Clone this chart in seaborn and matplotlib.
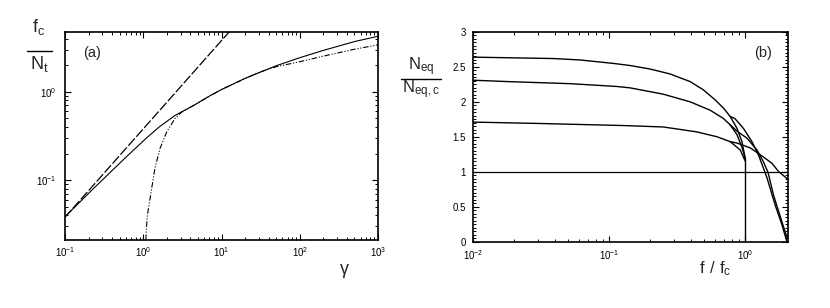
"""Two-panel figure: (a) critical force vs gamma, (b) equilibrium N vs f/f_c."""
import matplotlib
matplotlib.use("Agg")
import matplotlib.pyplot as plt
from matplotlib.lines import Line2D
from matplotlib.ticker import (FixedFormatter, FixedLocator, LogLocator,
                               MultipleLocator, NullFormatter)
import seaborn as sns

# ---- panel (a): f_c / N_t against gamma (log-log) ----
GAMMA_SOLID = [0.1, 0.23, 0.61, 1.1, 1.6, 2.55, 4.4, 7.1, 10, 20, 50, 100, 200, 500,
               1000]
FC_SOLID = [0.0385, 0.080, 0.184, 0.30, 0.40, 0.54, 0.70, 0.90, 1.06, 1.42, 1.97,
            2.43, 2.94, 3.70, 4.25]

GAMMA_DASH = [0.1, 20]
FC_DASH = [0.038, 7.6]

GAMMA_DASHDOT = [1.08, 1.1, 1.13, 1.28, 1.41, 1.64, 2.0, 2.55, 3.1, 4.4, 7.1, 10, 20,
                 30, 50, 100, 200, 500, 1000]
FC_DASHDOT = [0.021, 0.03, 0.040, 0.080, 0.137, 0.229, 0.353, 0.50, 0.59, 0.70, 0.90,
              1.06, 1.41, 1.66, 1.92, 2.19, 2.53, 3.03, 3.4]

# ---- panel (b): N_eq / N_eq,c against f / f_c ----
TOP_F = [0.01, 0.039, 0.061, 0.108, 0.143, 0.2, 0.28, 0.394, 0.494, 0.6, 0.693, 0.776]
TOP_N = [2.64, 2.62, 2.6, 2.55, 2.52, 2.47, 2.40, 2.29, 2.17, 2.03, 1.91, 1.79]
TOP_IN_F = [0.776, 0.87, 0.946, 1.0]
TOP_IN_N = [1.79, 1.62, 1.43, 1.19]
TOP_OUT_F = [0.776, 0.84, 0.97, 1.12, 1.25, 1.36, 1.44, 1.66, 1.86, 2.02]
TOP_OUT_N = [1.79, 1.76, 1.62, 1.43, 1.24, 1.05, 0.92, 0.52, 0.24, 0.0]

MID_F = [0.01, 0.018, 0.052, 0.114, 0.143, 0.25, 0.394, 0.553, 0.693, 0.776]
MID_N = [2.31, 2.29, 2.26, 2.22, 2.20, 2.11, 2.0, 1.88, 1.76, 1.67]
MID_IN_F = [0.776, 0.87, 0.946, 1.0]
MID_IN_N = [1.67, 1.53, 1.35, 1.19]
MID_OUT_F = [0.776, 0.87, 1.03, 1.22, 1.36, 1.47, 1.61, 1.86, 2.04]
MID_OUT_N = [1.67, 1.58, 1.48, 1.31, 1.14, 0.99, 0.67, 0.28, 0.04]

BOT_F = [0.01, 0.031, 0.13, 0.25, 0.44, 0.62, 0.776]
BOT_N = [1.71, 1.69, 1.66, 1.64, 1.57, 1.50, 1.43]
BOT_IN_F = [0.776, 0.92, 0.99, 1.0]
BOT_IN_N = [1.43, 1.31, 1.17, 1.15]
BOT_OUT_F = [0.776, 0.87, 1.09, 1.36, 1.57, 1.76, 2.06]
BOT_OUT_N = [1.43, 1.41, 1.34, 1.21, 1.12, 1.0, 0.89]

CUT_F = [1.0, 1.0]
CUT_N = [1.19, 0.0]
UNIT_LEVEL = 1.0

W, H = 830, 308

sns.set_style("ticks")
plt.rcParams.update({
    "font.family": ["Liberation Sans", "DejaVu Sans"],
    "mathtext.default": "regular",
    "lines.scale_dashes": False,
    "xtick.direction": "in",
    "ytick.direction": "in",
    "xtick.top": True,
    "ytick.right": True,
    "xtick.major.size": 4,
    "ytick.major.size": 4,
    "xtick.minor.size": 2,
    "ytick.minor.size": 2,
    "xtick.major.width": 0.8,
    "ytick.major.width": 0.8,
    "xtick.minor.width": 0.7,
    "ytick.minor.width": 0.7,
    "xtick.labelsize": 7,
    "ytick.labelsize": 7,
    "axes.linewidth": 1.2,
    "axes.edgecolor": "black",
    "xtick.color": "black",
    "ytick.color": "black",
})


def box(px_left, px_top, px_right, px_bottom):
    return [px_left / W, 1 - px_bottom / H, (px_right - px_left) / W,
            (px_bottom - px_top) / H]


def line(ax, x, y, **kw):
    sns.lineplot(x=x, y=y, ax=ax, color="black", sort=False, estimator=None,
                 legend=False, **kw)


def fraction(fig, cx, num, den, y_num, y_bar, y_den, half, size=12):
    fig.text(cx / W, 1 - y_num / H, num, ha="center", va="center", fontsize=size)
    fig.text(cx / W, 1 - y_den / H, den, ha="center", va="center", fontsize=size)
    fig.add_artist(Line2D([(cx - half) / W, (cx + half) / W],
                          [1 - y_bar / H, 1 - y_bar / H], color="black", lw=1.0))


fig = plt.figure(figsize=(W / 100, H / 100), dpi=100)

# panel (a)
ax1 = fig.add_axes(box(65, 32, 378, 240))
ax1.set_xscale("log")
ax1.set_yscale("log")
line(ax1, GAMMA_SOLID, FC_SOLID, lw=0.8)
line(ax1, GAMMA_DASH, FC_DASH, lw=0.9, linestyle=(0, (7, 1.6)))
line(ax1, GAMMA_DASHDOT, FC_DASHDOT, lw=0.8,
     linestyle=(0, (4, 1.3, 0.8, 1.3, 0.8, 1.3)))
ax1.set_xlim(0.1, 1000)
ax1.set_ylim(0.021, 4.75)
ax1.xaxis.set_major_locator(LogLocator(base=10, numticks=10))
ax1.xaxis.set_minor_locator(LogLocator(base=10, subs=range(2, 10), numticks=20))
ax1.yaxis.set_minor_locator(LogLocator(base=10, subs=range(2, 10), numticks=20))
ax1.yaxis.set_minor_formatter(NullFormatter())
ax1.set_xlabel("")
ax1.set_ylabel("")
ax1.text(92 / W, 1 - 53 / H, "(a)", transform=fig.transFigure, ha="center",
         va="center", fontsize=10.5)

# panel (b)
ax2 = fig.add_axes(box(472.7, 32, 788, 241.5))
ax2.set_xscale("log")
for fx, ny in [(TOP_F, TOP_N), (TOP_IN_F, TOP_IN_N), (TOP_OUT_F, TOP_OUT_N),
               (MID_F, MID_N), (MID_IN_F, MID_IN_N), (MID_OUT_F, MID_OUT_N),
               (BOT_F, BOT_N), (BOT_IN_F, BOT_IN_N), (BOT_OUT_F, BOT_OUT_N),
               (CUT_F, CUT_N)]:
    line(ax2, fx, ny, lw=1.0)
ax2.axhline(UNIT_LEVEL, color="black", lw=0.9)
ax2.set_xlim(0.01, 2.06)
ax2.set_ylim(0, 3)
ax2.yaxis.set_major_locator(FixedLocator([0, 0.5, 1, 1.5, 2, 2.5, 3]))
ax2.yaxis.set_major_formatter(FixedFormatter(["0", "0.5", "1", "1.5", "2", "2.5", "3"]))
ax2.yaxis.set_minor_locator(MultipleLocator(0.05))
ax2.xaxis.set_minor_locator(LogLocator(base=10, subs=range(2, 10), numticks=20))
ax2.xaxis.set_minor_formatter(NullFormatter())
ax2.set_xlabel("")
ax2.set_ylabel("")
ax2.text(763 / W, 1 - 53 / H, "(b)", transform=fig.transFigure, ha="center",
         va="center", fontsize=10.5)

ax1.tick_params(axis="x", which="both", pad=4)
ax1.tick_params(axis="y", which="both", pad=6)
ax2.tick_params(axis="x", which="both", pad=4.5)
ax2.tick_params(axis="y", which="both", pad=5)

# axis labels placed like the original
fraction(fig, 39, "$f_c$", "$N_t$", 27, 50.5, 64, 12.5, size=13)
fraction(fig, 421, "$N_{eq}$", "$N_{eq,c}$", 67, 78.5, 90, 20, size=12)
fig.text(344 / W, 1 - 269 / H, "γ", ha="center", va="center", fontsize=13)
fig.text(715 / W, 1 - 269 / H, "$f\\ /\\ f_c$", ha="center", va="center", fontsize=12)

fig.savefig("out.png", dpi=100)
